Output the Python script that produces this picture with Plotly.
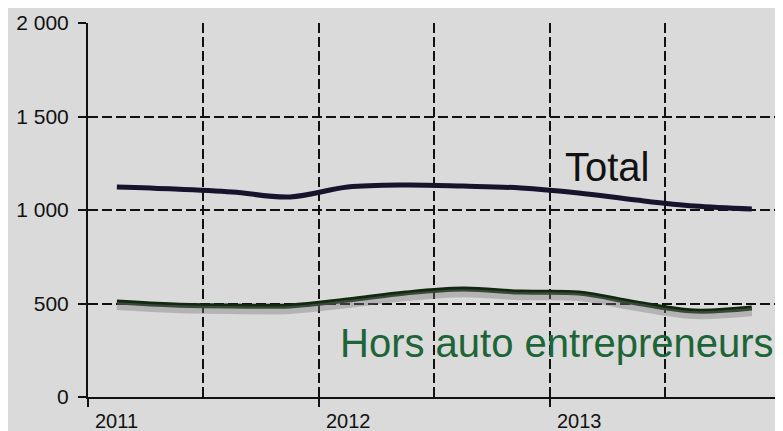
import plotly.graph_objects as go

# quarterly points, placed at the middle of each quarter
quarters = [2011.125, 2011.375, 2011.625, 2011.875,
            2012.125, 2012.375, 2012.625, 2012.875,
            2013.125, 2013.375, 2013.625, 2013.875]
total = [1123, 1112, 1096, 1070, 1123, 1134, 1128, 1118, 1091, 1053, 1021, 1005]
hors_auto = [508, 492, 487, 487, 519, 556, 577, 561, 556, 503, 460, 476]

year_ticks = [2011, 2012, 2013]
year_labels = ["2011", "2012", "2013"]
y_ticks = [0, 500, 1000, 1500, 2000]
y_labels = ["0", "500", "1 000", "1 500", "2 000"]

BG = "#dadada"
FONT = "Liberation Sans, Arial, sans-serif"
DASH = "10px,4px"

fig = go.Figure()

# soft grey shadow under the green line (scan look)
fig.add_trace(go.Scatter(
    x=quarters, y=hors_auto, yaxis="y2", mode="lines",
    line=dict(color="rgba(120,120,120,0.4)", width=8, shape="spline", smoothing=1),
    hoverinfo="skip", showlegend=False,
))
fig.add_trace(go.Scatter(
    x=quarters, y=hors_auto, mode="lines", name="Hors auto entrepreneurs",
    line=dict(color="#10290f", width=5, shape="spline", smoothing=1),
    showlegend=False,
))
fig.add_trace(go.Scatter(
    x=quarters, y=total, mode="lines", name="Total",
    line=dict(color="#16142c", width=5, shape="spline", smoothing=1),
    showlegend=False,
))

fig.add_annotation(x=2013.25, y=1230, text="Total", showarrow=False,
                   font=dict(family=FONT, size=40, color="#111111"))
fig.add_annotation(x=2013.03, y=290, text="Hors auto entrepreneurs", showarrow=False,
                   font=dict(family=FONT, size=40, color="#1d6536"))

for yr, lab in zip(year_ticks, year_labels):
    fig.add_annotation(x=yr, y=0, text=lab, showarrow=False,
                       xanchor="left", yanchor="top", xshift=5, yshift=-11,
                       font=dict(family=FONT, size=20, color="#111111"))

# page body has an 8px margin, so the figure is kept 8px smaller
fig.update_layout(
    width=775, height=423,
    margin=dict(l=80, r=0, t=15, b=34),
    paper_bgcolor=BG, plot_bgcolor=BG,
    font=dict(family=FONT, size=21, color="#111111"),
    xaxis=dict(
        range=[2011, 2014.01], tickvals=year_ticks, showticklabels=False,
        ticks="outside", ticklen=8, tickwidth=2, tickcolor="#111111",
        showline=True, linecolor="#111111", linewidth=2,
        showgrid=True, gridcolor="#111111", gridwidth=2, griddash=DASH,
        minor=dict(tick0=2011, dtick=0.5, showgrid=True, gridcolor="#111111",
                   gridwidth=2, griddash=DASH, ticks=""),
        zeroline=False, fixedrange=True,
    ),
    yaxis=dict(
        range=[0, 2000], tickvals=y_ticks, ticktext=y_labels,
        ticks="outside", ticklen=8, tickwidth=2, tickcolor="#111111",
        ticklabelstandoff=5,
        showline=True, linecolor="#111111", linewidth=2,
        showgrid=True, gridcolor="#111111", gridwidth=2, griddash=DASH,
        zeroline=False, fixedrange=True,
    ),
    yaxis2=dict(range=[22, 2022], overlaying="y", visible=False, fixedrange=True),
)

fig.write_html("out.html")
